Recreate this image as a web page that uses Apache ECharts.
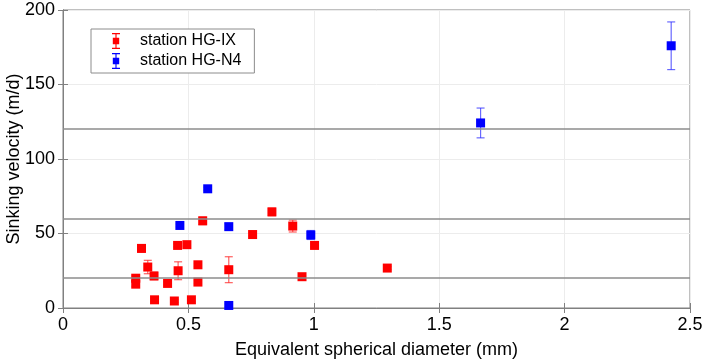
<!DOCTYPE html>
<html>
<head>
<meta charset="utf-8">
<script src="https://cdn.jsdelivr.net/npm/echarts@6/dist/echarts.min.js"></script>
<style>
  html, body { margin: 0; padding: 0; background: #fff; }
  #chart { width: 704px; height: 363px; }
</style>
</head>
<body>
<div id="chart"></div>
<script>
// station HG-IX: [diameter (mm), sinking velocity (m/d), error]
var redPoints = [
  [0.29, 20, 1.5], [0.29, 16, 1.5], [0.313, 40, 2.5], [0.338, 27.5, 4.5],
  [0.363, 21.5, 2.5], [0.365, 5.5, 1], [0.417, 16.5, 1], [0.444, 4.7, 1],
  [0.457, 42, 1], [0.459, 25, 6], [0.494, 42.5, 1], [0.512, 5.5, 1],
  [0.538, 29, 1], [0.538, 17.4, 1], [0.557, 58.5, 2.5], [0.661, 25.7, 8.7],
  [0.756, 49.3, 1], [0.833, 64.5, 2.5], [0.916, 55, 4], [0.953, 21, 2],
  [1.003, 42, 1], [1.293, 26.8, 1]
];
// station HG-N4
var bluePoints = [
  [0.466, 55.4, 1], [0.577, 80, 1], [0.661, 54.6, 2], [0.661, 1.7, 1],
  [0.988, 49, 3], [1.665, 124.2, 10], [2.425, 176, 16]
];
var refLines = [20, 60, 120];
var seriesNames = ["station HG-IX", "station HG-N4"];

var font = "Liberation Sans, Arial, sans-serif";
var legendIcon = "path://M0,0H10V1.5H0Z M4.3,0H5.7V20H4.3Z M0,18.5H10V20H0Z M1,6H9V14H1Z";

function renderErr(params, api) {
  var x = api.value(0), y = api.value(1), e = api.value(2);
  var hi = api.coord([x, y + e]);
  var lo = api.coord([x, y - e]);
  var w = 4;
  var style = { stroke: api.visual("color"), lineWidth: 1.2 };
  return {
    type: "group",
    children: [
      { type: "line", shape: { x1: hi[0], y1: hi[1], x2: lo[0], y2: lo[1] }, style: style },
      { type: "line", shape: { x1: hi[0] - w, y1: hi[1], x2: hi[0] + w, y2: hi[1] }, style: style },
      { type: "line", shape: { x1: lo[0] - w, y1: lo[1], x2: lo[0] + w, y2: lo[1] }, style: style }
    ]
  };
}

var chart = echarts.init(document.getElementById("chart"));
var axisLine = { show: true, lineStyle: { color: "#808080", width: 1 } };
var tick = { show: true, inside: true, length: 5, lineStyle: { color: "#808080" } };
var grid = { show: true, lineStyle: { color: "#ececec", width: 1 } };

var option = {
  animation: false,
  textStyle: { fontFamily: font },
  grid: {
    left: 63, right: 14, top: 10, bottom: 55,
    outerBoundsMode: "none", containLabel: false,
    show: true, borderColor: "#808080", borderWidth: 1
  },
  legend: {
    left: 91, top: 29,
    orient: "vertical",
    backgroundColor: "#fff",
    borderColor: "#8c8c8c", borderWidth: 1,
    borderRadius: 0,
    padding: [4, 13, 4, 21],
    itemGap: 4,
    itemWidth: 8, itemHeight: 16,
    textStyle: { fontSize: 16, color: "#000", fontFamily: font, padding: [0, 0, 0, 15] },
    data: [
      { name: seriesNames[0], icon: legendIcon, itemStyle: { color: "#ff0000" } },
      { name: seriesNames[1], icon: legendIcon, itemStyle: { color: "#0000ff" } }
    ]
  },
  xAxis: [{
    type: "value", min: 0, max: 2.5, interval: 0.5,
    name: "Equivalent spherical diameter (mm)",
    nameLocation: "middle", nameGap: 33, nameMoveOverlap: false,
    nameTextStyle: { fontSize: 18, color: "#000", fontFamily: font },
    axisLine: axisLine, axisTick: tick, splitLine: grid,
    axisLabel: { fontSize: 18, color: "#000", margin: 8, fontFamily: font }
  }, {
    type: "value", min: 0, max: 2.5, interval: 0.5, position: "top",
    axisLine: axisLine, axisTick: tick, splitLine: { show: false },
    axisLabel: { show: false }
  }],
  yAxis: [{
    type: "value", min: 0, max: 200, interval: 50,
    name: "Sinking velocity (m/d)",
    nameLocation: "middle", nameGap: 40, nameMoveOverlap: false,
    nameTextStyle: { fontSize: 18, color: "#000", fontFamily: font },
    axisLine: axisLine, axisTick: tick, splitLine: grid,
    axisLabel: { fontSize: 18, color: "#000", margin: 8, fontFamily: font }
  }, {
    type: "value", min: 0, max: 200, interval: 50, position: "right",
    axisLine: axisLine, axisTick: tick, splitLine: { show: false },
    axisLabel: { show: false }
  }],
  series: [
    {
      name: "refs", type: "line", data: [],
      markLine: {
        silent: true, symbol: "none", label: { show: false },
        lineStyle: { color: "#8c8c8c", width: 1.5, type: "solid" },
        data: refLines.map(function (v) { return { yAxis: v }; })
      }
    },
    {
      name: seriesNames[0], type: "custom", renderItem: renderErr,
      itemStyle: { color: "rgba(255,40,40,0.75)" },
      encode: { x: 0, y: 1 }, data: redPoints, z: 3
    },
    {
      name: seriesNames[1], type: "custom", renderItem: renderErr,
      itemStyle: { color: "rgba(40,40,255,0.7)" },
      encode: { x: 0, y: 1 }, data: bluePoints, z: 3
    },
    {
      name: seriesNames[0], type: "scatter", symbol: "rect", symbolSize: 9,
      itemStyle: { color: "#ff0000", opacity: 1 },
      data: redPoints.map(function (p) { return [p[0], p[1]]; }), z: 4
    },
    {
      name: seriesNames[1], type: "scatter", symbol: "rect", symbolSize: 9,
      itemStyle: { color: "#0000ff", opacity: 1 },
      data: bluePoints.map(function (p) { return [p[0], p[1]]; }), z: 4
    }
  ]
};
chart.setOption(option);
</script>
</body>
</html>
